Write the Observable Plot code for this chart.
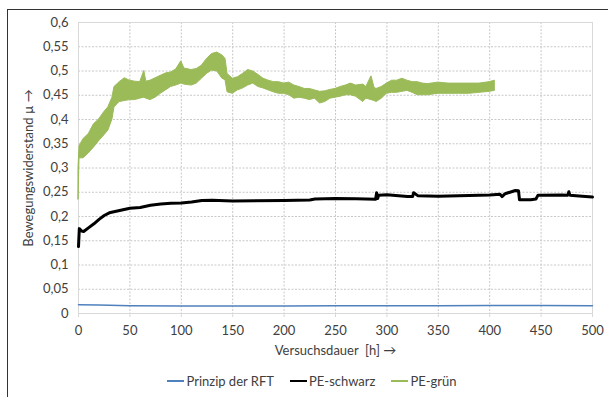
<!DOCTYPE html>
<html>
<head>
<meta charset="utf-8">
<script src="https://cdn.jsdelivr.net/npm/d3@7"></script>
<script src="https://cdn.jsdelivr.net/npm/@observablehq/plot@0.6"></script>
<style>
  html, body { margin: 0; padding: 0; background: #fff; overflow: hidden; }
  #wrap { position: relative; width: 608px; height: 397px; font-family: Lato, "Open Sans", sans-serif; }
  #border { position: absolute; left: 7px; top: 9px; width: 700px; height: 500px; border-top: 1px solid #333; border-left: 1px solid #333; }
  #chart { position: absolute; left: 0; top: 0; }
  #legend { position: absolute; left: 0; top: 373px; width: 624px; display: flex; justify-content: center; gap: 16px; font-size: 13px; color: #404040; }
  .item { display: flex; align-items: center; }
  .sw { display: inline-block; width: 17px; height: 2px; margin-right: 2px; }
</style>
</head>
<body>
<div id="wrap">
  <div id="border"></div>
  <div id="chart"></div>
  <div id="legend"></div>
</div>
<script>
// Prinzip der RFT (blue)
const rftH  = [0, 20, 50, 100, 150, 200, 250, 300, 350, 400, 450, 500];
const rftMu = [0.018, 0.0175, 0.016, 0.0155, 0.0155, 0.0155, 0.0158, 0.016, 0.016, 0.0165, 0.0165, 0.016];

// PE-schwarz (black)
const schwarzH  = [0, 0.8, 3, 5, 10, 15, 20, 25, 30, 40, 50, 60, 70, 80, 90, 100, 110, 120, 130, 150, 200, 225, 230, 250, 270, 289, 290, 291, 292, 300, 320, 325, 326, 330, 350, 400, 410, 412, 415, 425, 428, 429, 440, 445, 447, 470, 476, 477, 478, 490, 500];
const schwarzMu = [0.138, 0.175, 0.17, 0.169, 0.177, 0.185, 0.194, 0.202, 0.2076, 0.2124, 0.217, 0.2186, 0.2233, 0.226, 0.2275, 0.228, 0.2297, 0.233, 0.2336, 0.232, 0.233, 0.234, 0.236, 0.237, 0.2365, 0.2357, 0.249, 0.237, 0.244, 0.245, 0.241, 0.241, 0.249, 0.243, 0.242, 0.2443, 0.246, 0.241, 0.247, 0.2536, 0.253, 0.2345, 0.2345, 0.236, 0.244, 0.2443, 0.244, 0.251, 0.244, 0.242, 0.24];

// PE-grün (green band: lower and upper edge of the noisy trace)
const gruenH    = [0, 1, 5, 10, 15, 20, 25, 29, 33, 35, 40, 45, 50, 55, 60, 64, 66, 70, 75, 80, 85, 90, 95, 100, 103, 110, 115, 120, 125, 130, 135, 140, 143, 145, 150, 155, 160, 165, 170, 175, 180, 185, 190, 195, 200, 205, 210, 215, 220, 225, 230, 235, 240, 245, 250, 255, 260, 265, 270, 277, 280, 285, 288, 290, 295, 300, 305, 310, 315, 320, 325, 330, 335, 340, 350, 360, 370, 380, 390, 400, 405];
const gruenLow  = [0.235, 0.32, 0.32, 0.33, 0.342, 0.355, 0.367, 0.377, 0.40, 0.425, 0.436, 0.438, 0.44, 0.44, 0.443, 0.445, 0.443, 0.44, 0.445, 0.453, 0.46, 0.467, 0.47, 0.474, 0.472, 0.47, 0.474, 0.484, 0.494, 0.501, 0.499, 0.484, 0.481, 0.456, 0.453, 0.46, 0.464, 0.47, 0.474, 0.467, 0.464, 0.46, 0.456, 0.453, 0.453, 0.45, 0.443, 0.445, 0.443, 0.44, 0.443, 0.433, 0.436, 0.443, 0.445, 0.447, 0.45, 0.45, 0.447, 0.436, 0.443, 0.44, 0.438, 0.436, 0.443, 0.453, 0.455, 0.455, 0.457, 0.459, 0.455, 0.45, 0.45, 0.45, 0.453, 0.453, 0.453, 0.453, 0.455, 0.457, 0.459];
const gruenHigh = [0.30, 0.345, 0.36, 0.37, 0.39, 0.40, 0.415, 0.425, 0.445, 0.467, 0.477, 0.485, 0.48, 0.478, 0.477, 0.50, 0.478, 0.48, 0.485, 0.49, 0.495, 0.497, 0.503, 0.52, 0.505, 0.502, 0.504, 0.511, 0.525, 0.535, 0.538, 0.532, 0.525, 0.494, 0.484, 0.487, 0.494, 0.502, 0.499, 0.492, 0.484, 0.48, 0.477, 0.477, 0.474, 0.476, 0.47, 0.467, 0.463, 0.463, 0.46, 0.457, 0.458, 0.461, 0.463, 0.467, 0.47, 0.474, 0.47, 0.472, 0.467, 0.489, 0.465, 0.463, 0.467, 0.474, 0.48, 0.48, 0.484, 0.48, 0.477, 0.477, 0.474, 0.473, 0.476, 0.474, 0.474, 0.474, 0.474, 0.477, 0.48];

const xTicks = [0, 50, 100, 150, 200, 250, 300, 350, 400, 450, 500];
const yTicks = [0, 0.05, 0.1, 0.15, 0.2, 0.25, 0.3, 0.35, 0.4, 0.45, 0.5, 0.55, 0.6];

const seriesNames  = ["Prinzip der RFT", "PE-schwarz", "PE-grün"];
const seriesColors = ["#4f81bd", "#000000", "#9bbb59"];
const xLabel = "Versuchsdauer\u00a0\u00a0[h] →";
const yLabel = "Bewegungswiderstand µ →";

const rft = rftH.map((h, i) => ({h, mu: rftMu[i]}));
const schwarz = schwarzH.map((h, i) => ({h, mu: schwarzMu[i]}));
const gruen = gruenH.map((h, i) => ({h, lo: gruenLow[i], hi: gruenHigh[i]}));

const fmt = v => String(+v.toFixed(2)).replace(".", ",");

const chart = Plot.plot({
  width: 608,
  height: 370,
  marginLeft: 78,
  marginRight: 16,
  marginTop: 22,
  marginBottom: 57,
  style: {fontFamily: "Lato, 'Open Sans', sans-serif", fontSize: "13px", color: "#404040", background: "transparent"},
  x: {domain: [0, 500], ticks: xTicks, label: null},
  y: {domain: [0, 0.6], ticks: yTicks, label: null},
  marks: [
    Plot.gridX(xTicks, {stroke: "#c8c8c8", strokeOpacity: 1, strokeDasharray: "2,1.5"}),
    Plot.gridY(yTicks, {stroke: "#c8c8c8", strokeOpacity: 1, strokeDasharray: "2,1.5"}),
    Plot.frame({stroke: "#d9d9d9"}),
    Plot.axisX(xTicks, {tickSize: 4, tickPadding: 8, stroke: "#d9d9d9", tickFormat: d => String(d), fontSize: 13, fill: "#404040", label: null}),
    Plot.axisY(yTicks, {tickSize: 0, tickPadding: 10, tickFormat: fmt, fontSize: 13, fill: "#404040", label: null}),
    Plot.line(rft, {x: "h", y: "mu", stroke: seriesColors[0], strokeWidth: 1.5}),
    Plot.line(schwarz, {x: "h", y: "mu", stroke: seriesColors[1], strokeWidth: 3}),
    Plot.areaY(gruen, {x: "h", y1: "lo", y2: "hi", fill: seriesColors[2], stroke: seriesColors[2], strokeWidth: 1}),
    Plot.text([xLabel], {frameAnchor: "bottom", dy: 41, fontSize: 13, fill: "#404040"}),
    Plot.text([yLabel], {frameAnchor: "left", dx: -50, rotate: -90, textAnchor: "middle", fontSize: 13, fill: "#404040"})
  ]
});
document.getElementById("chart").appendChild(chart);

const legend = document.getElementById("legend");
seriesNames.forEach((name, i) => {
  const it = document.createElement("div");
  it.className = "item";
  const sw = document.createElement("span");
  sw.className = "sw";
  sw.style.background = seriesColors[i];
  const tx = document.createElement("span");
  tx.textContent = name;
  it.appendChild(sw);
  it.appendChild(tx);
  legend.appendChild(it);
});
</script>
</body>
</html>
